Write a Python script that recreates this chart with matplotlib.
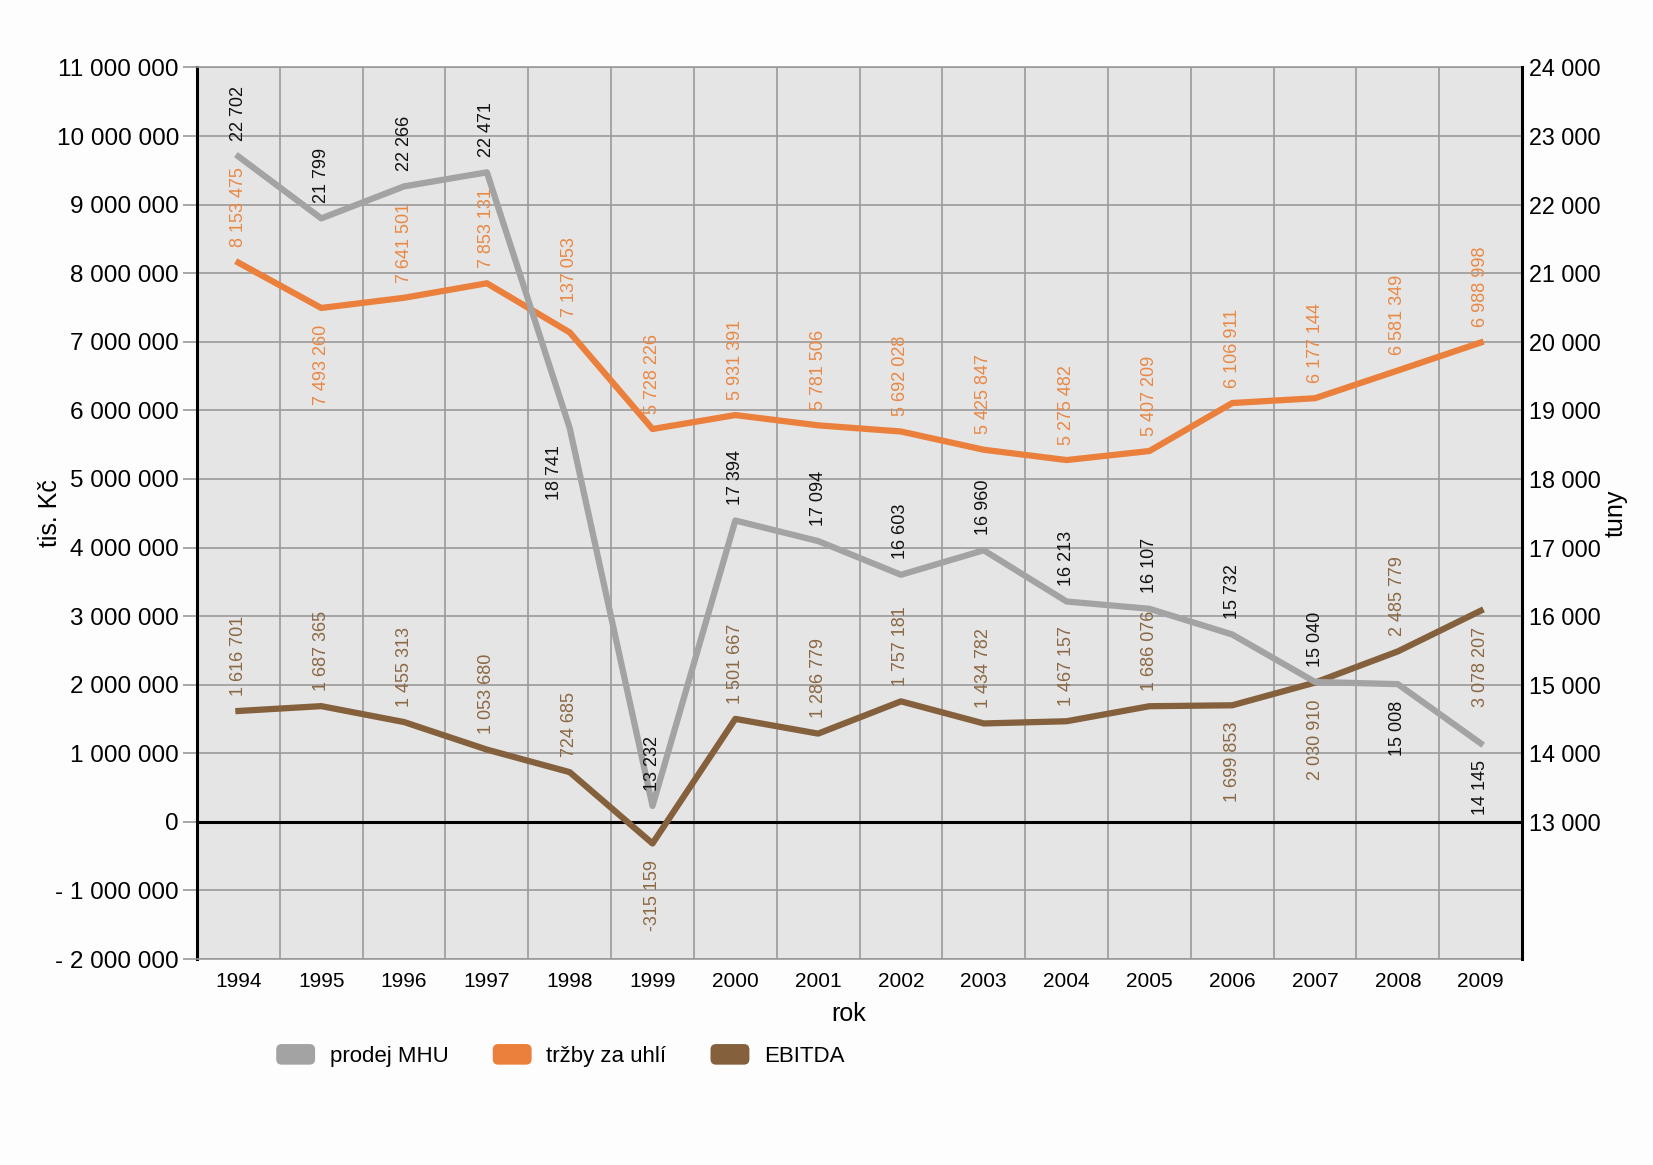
import matplotlib
matplotlib.use("Agg")
import matplotlib.pyplot as plt
from matplotlib.patches import Patch, FancyBboxPatch
from matplotlib.legend_handler import HandlerPatch
from matplotlib.ticker import FuncFormatter, FixedLocator

plt.rcParams['font.family'] = ['Liberation Sans', 'DejaVu Sans']

years = list(range(1994, 2010))
prodej_mhu = [22702, 21799, 22266, 22471, 18741, 13232, 17394, 17094, 16603, 16960,
              16213, 16107, 15732, 15040, 15008, 14145]
trzby = [8153475, 7493260, 7641501, 7853131, 7137053, 5728226, 5931391, 5781506, 5692028,
         5425847, 5275482, 5407209, 6106911, 6177144, 6581349, 6988998]
ebitda = [1616701, 1687365, 1455313, 1053680, 724685, -315159, 1501667, 1286779, 1757181,
          1434782, 1467157, 1686076, 1699853, 2030910, 2485779, 3078207]

# label placement: +1 above, -1 below
mhu_pos = [1, 1, 1, 1, -1, 1, 1, 1, 1, 1, 1, 1, 1, 1, -1, -1]
trz_pos = [1, -1, 1, 1, 1, 1, 1, 1, 1, 1, 1, 1, 1, 1, 1, 1]
ebi_pos = [1, 1, 1, 1, 1, -1, 1, 1, 1, 1, 1, 1, -1, -1, 1, -1]

c_gray = '#A3A3A3'
c_orange = '#EA803C'
c_brown = '#84603C'
c_orange_t = '#E98845'
c_brown_t = '#8A6844'

def fmt_num(v):
    s = f"{abs(int(v)):,}".replace(",", " ")
    return ("-" if v < 0 else "") + s

fig = plt.figure(figsize=(16.53, 11.65), dpi=100, facecolor='#FDFDFD')
ax = fig.add_axes([0.1192, 0.1768, 0.8016, 0.7653])
ax.set_facecolor('#E5E5E5')
x = list(range(len(years)))

ax.set_xlim(-0.5, len(years) - 0.5)
ax.set_ylim(-2000000, 11000000)
ax.set_yticks(range(-2000000, 11000001, 1000000))

def left_fmt(v, p):
    v = int(round(v))
    if v < 0:
        return "- " + f"{abs(v):,}".replace(",", " ")
    return f"{v:,}".replace(",", " ")
ax.yaxis.set_major_formatter(FuncFormatter(left_fmt))
ax.set_xticks(x)
ax.set_xticklabels([str(y) for y in years], fontsize=15)
ax.tick_params(axis='x', length=0, pad=9)
ax.tick_params(axis='y', labelsize=17.5, length=10, color='#999999', width=1.2, pad=3)

ax.xaxis.set_minor_locator(FixedLocator([i + 0.5 for i in range(len(years) - 1)]))
ax.grid(which='minor', axis='x', color='#9A9A9A', lw=1.2)
ax.grid(which='major', axis='y', color='#9A9A9A', lw=1.2)
ax.tick_params(which='minor', length=0)
ax.set_axisbelow(True)
ax.axhline(0, color='black', lw=2.2, zorder=2)

for s in ['top', 'bottom']:
    ax.spines[s].set_color('#9A9A9A')
    ax.spines[s].set_linewidth(1.2)
ax.spines['left'].set_color('black')
ax.spines['left'].set_linewidth(2.2)
ax.spines['right'].set_visible(False)

ax.plot(x, trzby, color=c_orange, lw=4.5, zorder=4, solid_joinstyle='round')
ax.plot(x, ebitda, color=c_brown, lw=4.5, zorder=4, solid_joinstyle='round')

ax.set_xlabel('rok', fontsize=18, labelpad=8, x=0.492)
ax.set_ylabel('tis. Kč', fontsize=18, labelpad=-5)

ax2 = ax.twinx()
ax2.set_ylim(11000, 24000)
ax2.set_yticks(range(13000, 24001, 1000))
ax2.yaxis.set_major_formatter(FuncFormatter(lambda v, p: f"{int(v):,}".replace(",", " ")))
ax2.tick_params(axis='y', labelsize=16.8, length=0, pad=5)
for s in ['top', 'bottom', 'left']:
    ax2.spines[s].set_visible(False)
ax2.spines['right'].set_color('black')
ax2.spines['right'].set_linewidth(2.2)
ax2.plot(x, prodej_mhu, color=c_gray, lw=4.5, zorder=3, solid_joinstyle='round')
ax2.set_ylabel('tuny', fontsize=18, labelpad=2)

def labels(axis, vals, pos, color, weight='normal', dx=None):
    for i, (v, p) in enumerate(zip(vals, pos)):
        off = 11 if p > 0 else -12
        xo = 0 if dx is None else dx[i]
        axis.annotate(fmt_num(v), (i, v), xytext=(xo, off), textcoords='offset points',
                      rotation=90, ha='center', va='bottom' if p > 0 else 'top',
                      fontsize=13, color=color, fontweight=weight, zorder=6)

mhu_dx = [0] * 16
mhu_dx[4] = -11
labels(ax2, prodej_mhu, mhu_pos, '#111111', dx=mhu_dx)
labels(ax, trzby, trz_pos, c_orange_t)
labels(ax, ebitda, ebi_pos, c_brown_t)

def round_patch(legend, orig_handle, xdescent, ydescent, width, height, fontsize):
    return FancyBboxPatch((-xdescent, -ydescent), width, height,
                          boxstyle="round,pad=0,rounding_size=4")

handles = [Patch(facecolor=c_gray, edgecolor='none', label='prodej MHU'),
           Patch(facecolor=c_orange, edgecolor='none', label='tržby za uhlí'),
           Patch(facecolor=c_brown, edgecolor='none', label='EBITDA')]
fig.legend(handles=handles, loc='center left', bbox_to_anchor=(0.155, 0.094),
           ncol=3, frameon=False, fontsize=16, handlelength=1.75, handleheight=1.05,
           handletextpad=0.65, columnspacing=2.0,
           handler_map={Patch: HandlerPatch(patch_func=round_patch)})

fig.savefig('out.png', dpi=100, facecolor=fig.get_facecolor())
